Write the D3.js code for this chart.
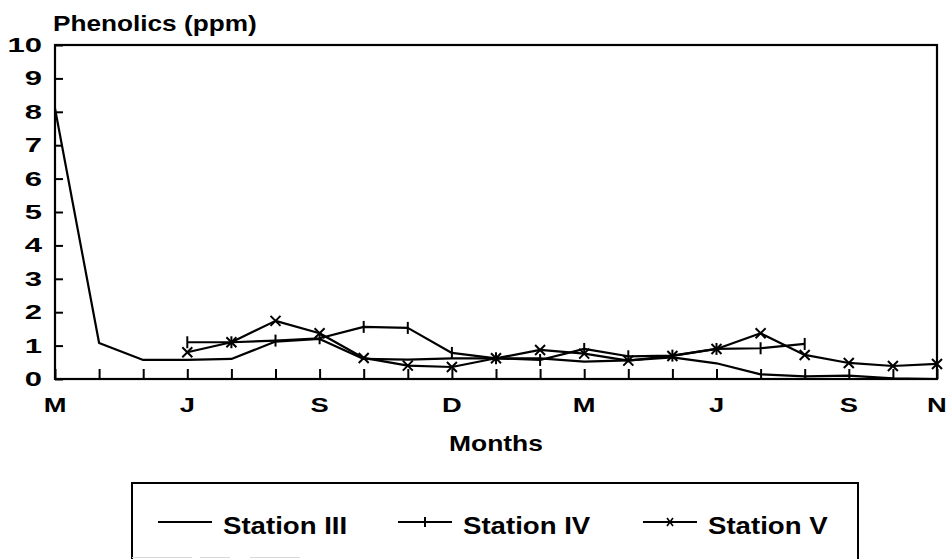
<!DOCTYPE html>
<html><head><meta charset="utf-8">
<script src="https://cdn.jsdelivr.net/npm/d3@7"></script>
<style>
body{margin:0;background:#fff}
text{font-family:"Liberation Sans",Arial,sans-serif;font-weight:bold;fill:#000}
</style>
</head><body>
<svg id="c" width="951" height="559"></svg>
<script>
// ---- data ----
const monthLabels = ["M","","","J","","","S","","","D","","","M","","","J","","","S","","N"];
const yTicks = [0,1,2,3,4,5,6,7,8,9,10];
const station3 = [8.1,1.08,0.57,0.57,0.6,1.12,1.2,0.6,0.58,0.62,0.62,0.62,0.52,0.56,0.65,0.47,0.14,0.08,0.1,0.02,0.0];
const station4 = [null,null,null,1.1,1.1,1.15,1.22,1.56,1.53,0.78,0.62,0.57,0.9,0.68,0.7,0.9,0.92,1.05,null,null,null];
const station5 = [null,null,null,0.8,1.1,1.74,1.37,0.63,0.4,0.36,0.62,0.87,0.76,0.55,0.69,0.9,1.37,0.72,0.48,0.39,0.45];
const seriesNames = ["Station III","Station IV","Station V"];
const yTitle = "Phenolics (ppm)";
const xTitle = "Months";

// ---- layout ----
const svg = d3.select("#c");
const L = 55, R = 937, T = 45, B = 379;
const x = d3.scaleLinear().domain([0, monthLabels.length - 1]).range([L, R]);
const y = d3.scaleLinear().domain([0, 10]).range([B, T]);

function stretch(sel, f){
  sel.each(function(){
    const w = this.getComputedTextLength();
    this.setAttribute("textLength", w * f);
    this.setAttribute("lengthAdjust", "spacingAndGlyphs");
  });
}

// axes ticks (inward)
const gx = svg.append("g").attr("transform", `translate(0,${B})`)
  .call(d3.axisBottom(x).tickValues(d3.range(monthLabels.length)).tickSize(-10).tickFormat(""));
gx.select(".domain").remove();
gx.selectAll("line").attr("stroke", "#000").attr("stroke-width", 2);

const gy = svg.append("g").attr("transform", `translate(${L},0)`)
  .call(d3.axisLeft(y).tickValues(yTicks).tickSize(-8).tickFormat(""));
gy.select(".domain").remove();
gy.selectAll("line").attr("stroke", "#000").attr("stroke-width", 2);

// frame
svg.append("rect").attr("x", L).attr("y", T).attr("width", R - L).attr("height", B - T)
  .attr("fill", "none").attr("stroke", "#000").attr("stroke-width", 2.2);

// tick labels
const yl = svg.append("g").selectAll("text").data(yTicks).join("text")
  .attr("x", 42).attr("y", d => y(d) + 7).attr("text-anchor", "end")
  .style("font-size", "20px").text(d => d);
stretch(yl, 1.55);

const xl = svg.append("g").selectAll("text")
  .data(monthLabels.map((m, i) => ({m, i})).filter(d => d.m))
  .join("text")
  .attr("x", d => x(d.i)).attr("y", 412).attr("text-anchor", "middle")
  .style("font-size", "21px").text(d => d.m);
stretch(xl, 1.3);

// titles
const tt = svg.append("text").attr("x", 53).attr("y", 31).style("font-size", "22px").text(yTitle);
stretch(tt, 1.19);
const xt = svg.append("text").attr("x", (L + R) / 2).attr("y", 451).attr("text-anchor", "middle")
  .style("font-size", "22px").text(xTitle);
stretch(xt, 1.2);

// lines
const line = d3.line().defined(d => d != null).x((d, i) => x(i)).y(d => y(d));
[station3, station4, station5].forEach(s => {
  svg.append("path").datum(s).attr("d", line)
    .attr("fill", "none").attr("stroke", "#000").attr("stroke-width", 2.2)
    .attr("stroke-linejoin", "round");
});

// markers
const pts4 = station4.map((v, i) => ({v, i})).filter(d => d.v != null);
svg.append("g").selectAll("path").data(pts4).join("path")
  .attr("d", d => `M${x(d.i)},${y(d.v) - 6}V${y(d.v) + 6}`)
  .attr("stroke", "#000").attr("stroke-width", 2);
const pts5 = station5.map((v, i) => ({v, i})).filter(d => d.v != null);
svg.append("g").selectAll("path").data(pts5).join("path")
  .attr("d", d => { const cx = x(d.i), cy = y(d.v), s = 5;
    return `M${cx - s},${cy - s}L${cx + s},${cy + s}M${cx - s},${cy + s}L${cx + s},${cy - s}`; })
  .attr("stroke", "#000").attr("stroke-width", 2);

// legend
const lg = svg.append("g");
lg.append("path").attr("d", "M132,559V483H858V559").attr("fill", "none")
  .attr("stroke", "#000").attr("stroke-width", 2);
lg.append("line").attr("x1", 132).attr("x2", 300).attr("y1", 557.5).attr("y2", 557.5)
  .attr("stroke", "#d8d8d8").attr("stroke-width", 1).attr("stroke-dasharray", "60 8 30 20");
const items = [
  {name: seriesNames[0], x0: 158, mark: null},
  {name: seriesNames[1], x0: 398, mark: "plus"},
  {name: seriesNames[2], x0: 643, mark: "x"}
];
const ly = 522;
items.forEach(it => {
  lg.append("line").attr("x1", it.x0).attr("x2", it.x0 + 54).attr("y1", ly).attr("y2", ly)
    .attr("stroke", "#000").attr("stroke-width", 2);
  const cx = it.x0 + 27;
  if (it.mark === "plus") {
    lg.append("path").attr("d", `M${cx},${ly - 5}V${ly + 5}`).attr("stroke", "#000").attr("stroke-width", 2);
  } else if (it.mark === "x") {
    lg.append("path").attr("d", `M${cx - 3},${ly - 4}L${cx + 3},${ly + 4}M${cx - 3},${ly + 4}L${cx + 3},${ly - 4}`)
      .attr("stroke", "#000").attr("stroke-width", 1.6);
  }
  const t = lg.append("text").attr("x", it.x0 + 65).attr("y", ly + 12).style("font-size", "23px").text(it.name);
  stretch(t, 1.2);
});
</script>
</body></html>
